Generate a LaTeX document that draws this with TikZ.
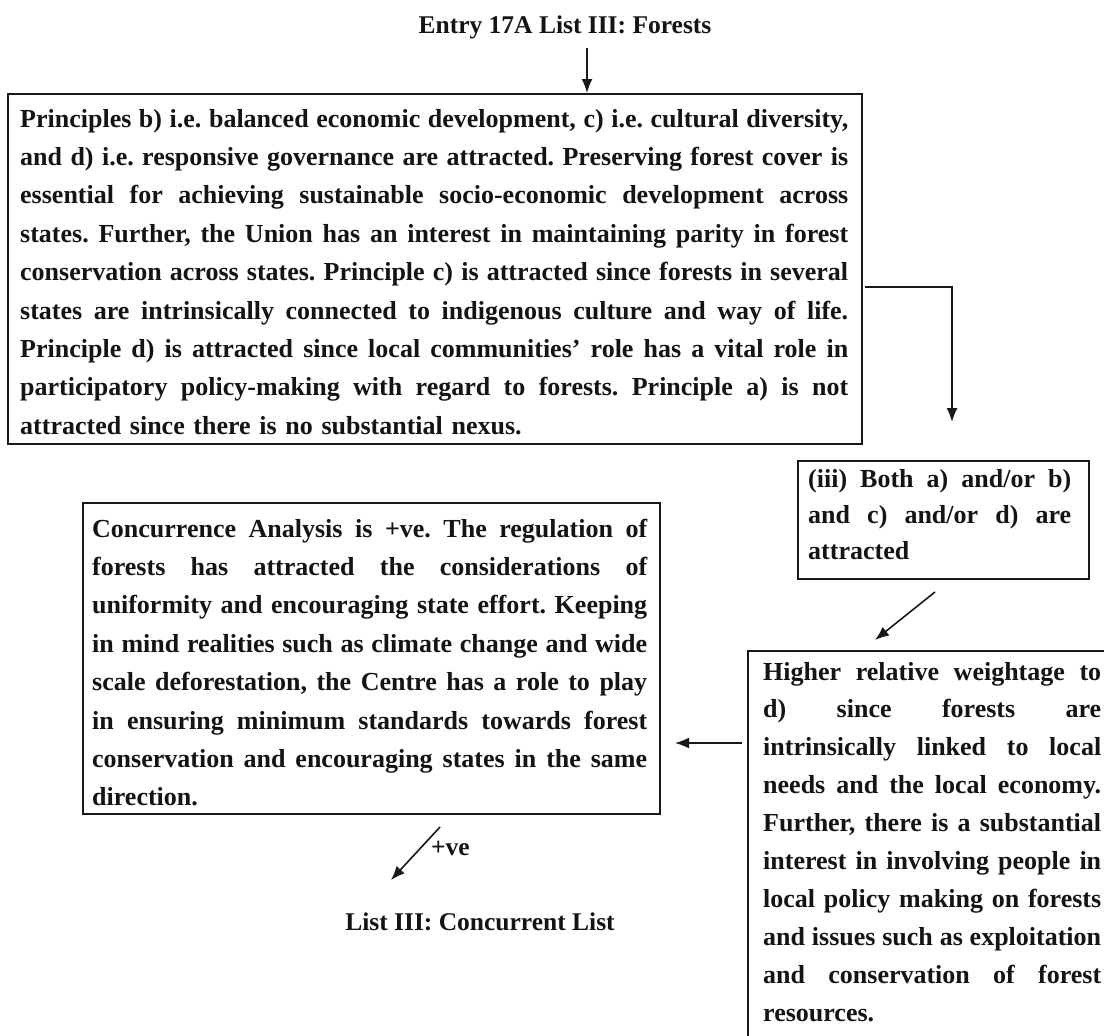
\documentclass[tikz,border=0pt]{standalone}
\usepackage{fontspec}
\setmainfont{Liberation Serif}
\usetikzlibrary{arrows.meta}
\frenchspacing
% body text: bold serif, fixed leading
\newcommand\bodyfont{\fontsize{26}{38.4}\selectfont\bfseries}
% one fully justified line: word spaces share the spare width
\newcommand\jl[1]{\hbox to \hsize{\spaceskip=\fontdimen2\font plus 1fil minus \fontdimen4\font\relax #1}}

\begin{document}
\begin{tikzpicture}[x=1pt,y=-1pt,
  frame/.style={draw=black!90, line width=1.6pt, anchor=north west, inner sep=0pt},
  body/.style={anchor=base west, inner sep=0pt, align=left, text=black!92, font=\bodyfont},
  label/.style={anchor=base, inner sep=0pt, text=black!92, font=\fontsize{25.5}{30}\selectfont\bfseries},
  arr/.style={-{Latex[length=14pt,width=11pt]}, line width=1.6pt, draw=black!90}]

\useasboundingbox (0,0) rectangle (1104,1036);
\clip (0,0) rectangle (1104,1036);
\fill[white] (0,0) rectangle (1104,1036);

% heading
\node[label] (title) at (565,34) {Entry 17A List III: Forests};

% principles box
\node[frame, minimum width=854pt, minimum height=350pt] (prin) at (7,93) {};
\node[body, text width=828pt] (prinT) at (20,127) {%
\jl{Principles b) i.e. balanced economic development, c) i.e. cultural diversity,}
\jl{and d) i.e. responsive governance are attracted. Preserving forest cover is}
\jl{essential for achieving sustainable socio-economic development across}
\jl{states. Further, the Union has an interest in maintaining parity in forest}
\jl{conservation across states. Principle c) is attracted since forests in several}
\jl{states are intrinsically connected to indigenous culture and way of life.}
\jl{Principle d) is attracted since local communities’ role has a vital role in}
\jl{participatory policy-making with regard to forests. Principle a) is not}
\hbox{attracted since there is no substantial nexus.}};

% outcome box
\node[frame, minimum width=291pt, minimum height=118pt] (both) at (797,460) {};
\node[body, text width=263pt, font=\fontsize{26}{36}\selectfont\bfseries] (bothT) at (808,487) {%
\jl{(iii) Both a) and/or b)}
\jl{and c) and/or d) are}
\hbox{attracted}};

% weightage box
\node[frame, minimum width=380pt, minimum height=420pt] (wt) at (747,650) {};
\node[body, text width=338pt, font=\fontsize{26}{37.9}\selectfont\bfseries] (wtT) at (763,680) {%
\jl{Higher relative weightage to}
\jl{d) since forests are}
\jl{intrinsically linked to local}
\jl{needs and the local economy.}
\jl{Further, there is a substantial}
\jl{interest in involving people in}
\jl{local policy making on forests}
\jl{and issues such as exploitation}
\jl{and conservation of forest}
\hbox{resources.}};

% concurrence box
\node[frame, minimum width=577pt, minimum height=311pt] (conc) at (82,502) {};
\node[body, text width=555pt] (concT) at (92,537) {%
\jl{Concurrence Analysis is +ve. The regulation of}
\jl{forests has attracted the considerations of}
\jl{uniformity and encouraging state effort. Keeping}
\jl{in mind realities such as climate change and wide}
\jl{scale deforestation, the Centre has a role to play}
\jl{in ensuring minimum standards towards forest}
\jl{conservation and encouraging states in the same}
\hbox{direction.}};

% result
\node[label, anchor=base west] (pos) at (431,855) {+ve};
\node[label] (list) at (480,930) {List III: Concurrent List};

% connectors
\coordinate (a0) at (587,48);
\coordinate (b0) at (861,287);
\coordinate (b1) at (952,422);
\coordinate (c0) at (935,592);
\coordinate (c1) at (875,640);
\coordinate (d0) at (742,743);
\coordinate (d1) at (675,743);
\coordinate (e0) at (440,827);
\coordinate (e1) at (391,880);

\draw[arr] (a0) -- (a0 |- prin.north);
\draw[arr] (b0) ++(4,0) -| (b1);
\draw[arr] (c0) -- (c1);
\draw[arr] (d0) -- (d1);
\draw[arr] (e0) -- (e1);
\end{tikzpicture}
\end{document}
